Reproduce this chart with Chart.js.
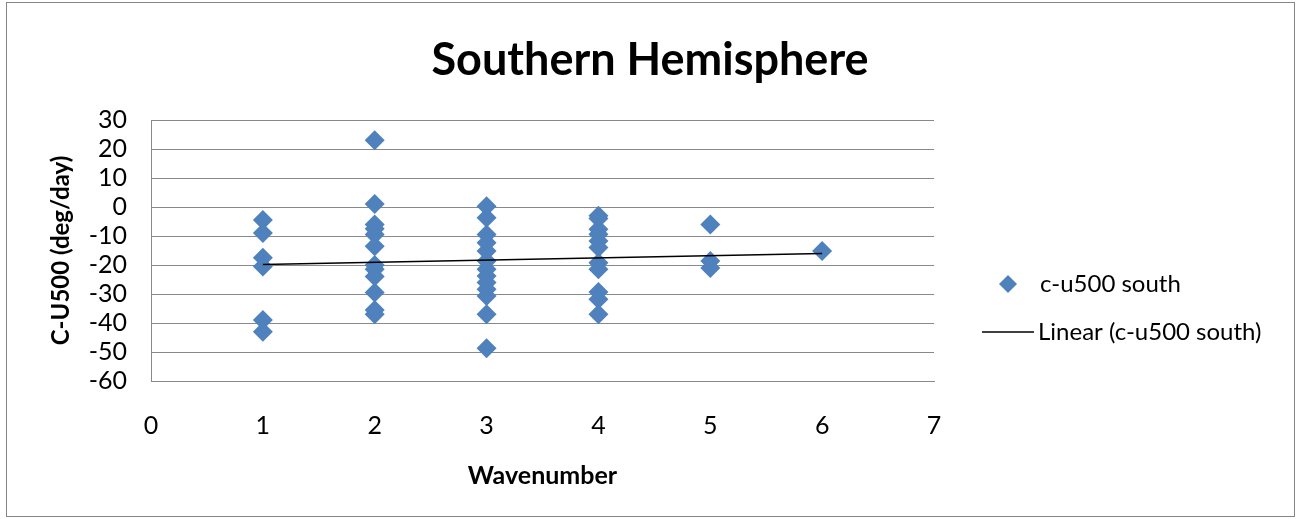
<!DOCTYPE html>
<html>
<head>
<meta charset="utf-8">
<script src="https://cdn.jsdelivr.net/npm/chart.js@4.4.0/dist/chart.umd.min.js"></script>
<style>
  html, body { margin: 0; padding: 0; background: #fff; }
  #frame { position: absolute; left: 6px; top: 2px; width: 1287px; height: 513px; border: 1px solid #868686; }
  #wrap { position: absolute; left: 0; top: 0; width: 1300px; height: 519px; }
</style>
</head>
<body>
<div id="frame"></div>
<div id="wrap"><canvas id="chart" width="1300" height="519"></canvas></div>
<script>
// values, one list per wavenumber
const wave1 = [-4.5, -9, -17.5, -20.5, -39, -43]
const wave2 = [23, 1, -6, -7.5, -9.5, -13.5, -20, -21.5, -24, -29.5, -35.5, -37]
const wave3 = [0.3, -3.7, -9.5, -12.3, -15.2, -18.6, -21.5, -23.8, -26, -28.4, -30.7, -37, -48.7]
const wave4 = [-3, -4, -7.7, -9.4, -11.7, -14, -19.2, -21.5, -29.3, -31.8, -37]
const wave5 = [-6, -18.6, -21]
const wave6 = [-15.2]

// trend line ends
const trendX = [1, 6]
const trendY = [-19.8, -16]

const FONT = 'Lato, "Liberation Sans", sans-serif'
const BLUE = '#4F81BD'
const GRID = '#898989'

const columns = [wave1, wave2, wave3, wave4, wave5, wave6]
const points = []
columns.forEach((vals, i) => {
  vals.forEach(v => points.push({ x: i + 1, y: v }))
})
const trend = trendX.map((x, i) => ({ x: x, y: trendY[i] }))

// legend on the right, drawn by hand like the excel one
const sideLegend = {
  id: 'sideLegend',
  afterDraw(chart) {
    const ctx = chart.ctx
    const ds = chart.data.datasets
    const x0 = chart.chartArea.right
    ctx.save()
    ctx.font = '24px ' + FONT
    ctx.textBaseline = 'middle'
    // diamond
    let y = 284
    ctx.fillStyle = BLUE
    ctx.beginPath()
    ctx.moveTo(x0 + 74, y - 9)
    ctx.lineTo(x0 + 83, y)
    ctx.lineTo(x0 + 74, y + 9)
    ctx.lineTo(x0 + 65, y)
    ctx.closePath()
    ctx.fill()
    ctx.fillStyle = '#000'
    ctx.fillText(ds[0].label, x0 + 106, y)
    // line
    y = 332
    ctx.strokeStyle = '#000'
    ctx.lineWidth = 1.5
    ctx.beginPath()
    ctx.moveTo(x0 + 48, y)
    ctx.lineTo(x0 + 100, y)
    ctx.stroke()
    ctx.fillText(ds[1].label, x0 + 104, y)
    ctx.restore()
  }
}

const chart = new Chart(document.getElementById('chart'), {
  type: 'scatter',
  data: {
    datasets: [
      {
        label: 'c-u500 south',
        data: points,
        pointStyle: 'rectRot',
        pointRadius: 10,
        pointHoverRadius: 10,
        backgroundColor: BLUE,
        borderColor: BLUE,
        borderWidth: 0,
        order: 2
      },
      {
        label: 'Linear (c-u500 south)',
        type: 'line',
        data: trend,
        borderColor: '#000',
        borderWidth: 1.5,
        pointRadius: 0,
        fill: false,
        order: 1
      }
    ]
  },
  options: {
    responsive: false,
    animation: false,
    events: [],
    layout: { padding: { left: 0, right: 0, top: 0, bottom: 24 } },
    plugins: {
      legend: { display: false },
      tooltip: { enabled: false },
      title: {
        display: true,
        text: 'Southern Hemisphere',
        color: '#000',
        font: { family: FONT, size: 45, weight: 'bold' },
        padding: { top: 33, bottom: 33 }
      }
    },
    scales: {
      x: {
        type: 'linear',
        min: 0,
        max: 7,
        afterFit: s => { s.height = 114 },
        ticks: { stepSize: 1, color: '#000', padding: 30, font: { family: FONT, size: 25 } },
        grid: { display: false, drawTicks: false },
        border: { display: true, color: GRID, width: 1 },
        title: {
          display: true,
          text: 'Wavenumber',
          color: '#000',
          font: { family: FONT, size: 25, weight: 'bold' },
          padding: { top: 4, bottom: 4 }
        }
      },
      y: {
        min: -60,
        max: 30,
        afterFit: s => { s.width = 151 },
        ticks: { stepSize: 10, autoSkip: false, color: '#000', padding: 24, font: { family: FONT, size: 25, lineHeight: 1 } },
        grid: { color: GRID, lineWidth: 1, drawTicks: false },
        border: { display: true, color: GRID, width: 1 },
        title: {
          display: true,
          text: 'C-U500 (deg/day)',
          color: '#000',
          font: { family: FONT, size: 24, weight: 'bold' },
          padding: { top: 47, bottom: 4 }
        }
      },
      // empty right-hand scale that only keeps the space where the legend sits
      side: {
        position: 'right',
        afterFit: s => { s.width = 366 },
        ticks: { display: false },
        grid: { display: false, drawTicks: false },
        border: { display: false }
      }
    }
  },
  plugins: [sideLegend]
})
</script>
</body>
</html>
